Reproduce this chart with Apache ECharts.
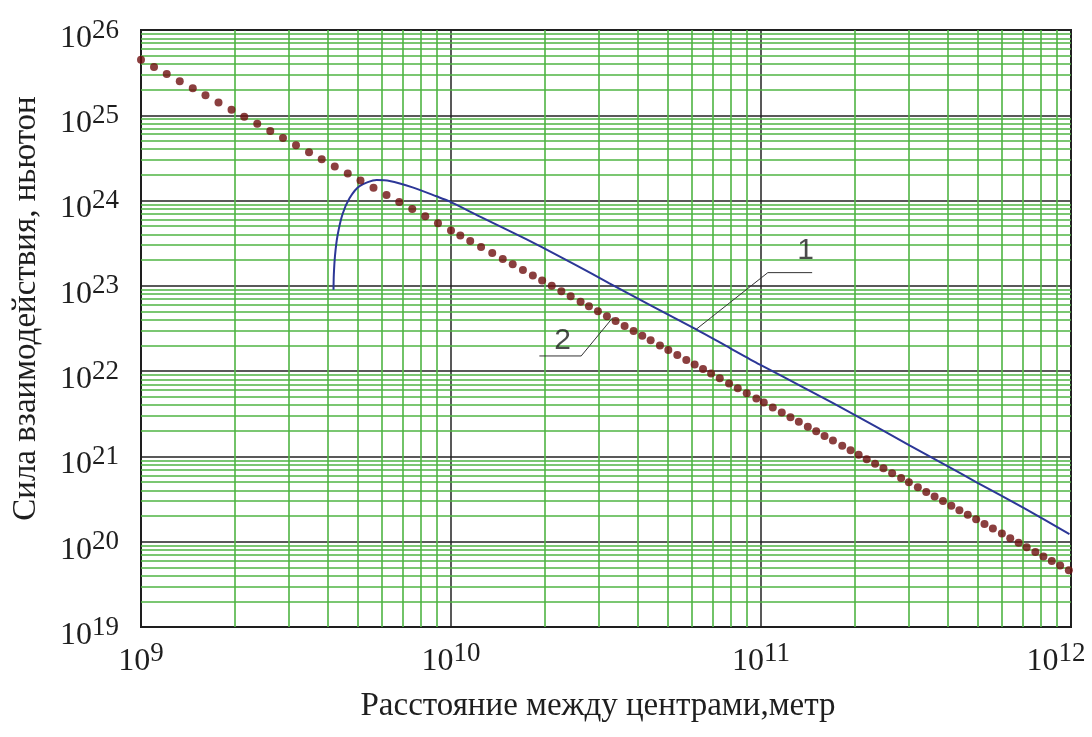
<!DOCTYPE html>
<html>
<head>
<meta charset="utf-8">
<script src="https://cdn.jsdelivr.net/npm/echarts@6/dist/echarts.min.js"></script>
<style>
html, body { margin: 0; padding: 0; background: #fff; }
#chart { width: 1092px; height: 737px; }
</style>
</head>
<body>
<div id="chart"></div>
<script>
// all values are log10 exponents
const xTicks = [9, 10, 11, 12]
const yTicks = [19, 20, 21, 22, 23, 24, 25, 26]
const minorSteps = [2, 3, 4, 5, 6, 7, 8, 9]

// curve 2 (dotted)
const dotsX = [
  9.000, 9.042, 9.083, 9.125, 9.167, 9.208, 9.250, 9.292, 9.333, 9.375,
  9.417, 9.458, 9.500, 9.542, 9.583, 9.625, 9.667, 9.708, 9.750, 9.792,
  9.833, 9.875, 9.917, 9.958, 10.000, 10.030, 10.062, 10.097, 10.133, 10.167,
  10.199, 10.232, 10.264, 10.294, 10.325, 10.356, 10.386, 10.418, 10.445, 10.474,
  10.503, 10.531, 10.560, 10.589, 10.617, 10.644, 10.674, 10.701, 10.730, 10.759,
  10.786, 10.813, 10.839, 10.867, 10.897, 10.925, 10.954, 10.985, 11.009, 11.038,
  11.067, 11.095, 11.122, 11.151, 11.178, 11.205, 11.232, 11.262, 11.289, 11.315,
  11.341, 11.368, 11.395, 11.423, 11.452, 11.477, 11.506, 11.533, 11.560, 11.587,
  11.614, 11.640, 11.667, 11.694, 11.721, 11.748, 11.777, 11.804, 11.831, 11.857,
  11.885, 11.911, 11.938, 11.965, 11.993
]
const dotsY = [
  25.650, 25.566, 25.484, 25.400, 25.316, 25.234, 25.150, 25.066, 24.984, 24.900,
  24.816, 24.734, 24.650, 24.566, 24.484, 24.400, 24.316, 24.234, 24.150, 24.066,
  23.984, 23.900, 23.816, 23.734, 23.650, 23.590, 23.526, 23.456, 23.384, 23.316,
  23.252, 23.186, 23.122, 23.062, 23.000, 22.938, 22.878, 22.814, 22.760, 22.702,
  22.644, 22.588, 22.530, 22.472, 22.416, 22.362, 22.302, 22.248, 22.190, 22.132,
  22.078, 22.024, 21.972, 21.916, 21.856, 21.800, 21.742, 21.680, 21.632, 21.574,
  21.516, 21.460, 21.406, 21.348, 21.294, 21.240, 21.186, 21.126, 21.072, 21.020,
  20.968, 20.914, 20.860, 20.804, 20.746, 20.696, 20.638, 20.584, 20.530, 20.476,
  20.422, 20.370, 20.316, 20.262, 20.208, 20.154, 20.096, 20.042, 19.988, 19.936,
  19.880, 19.828, 19.774, 19.720, 19.664
]

// curve 1 (solid blue)
const curveX = [
  9.621, 9.622, 9.626, 9.634, 9.650, 9.673, 9.705, 9.760, 9.802, 9.876,
  9.953, 9.995, 10.092, 10.198, 10.290, 10.400, 10.511, 10.650, 10.791, 10.900,
  10.995, 11.147, 11.318, 11.479, 11.600, 11.694, 11.850, 11.995
]
const curveY = [
  22.955, 23.130, 23.360, 23.590, 23.840, 24.030, 24.170, 24.240, 24.230, 24.155,
  24.050, 23.990, 23.815, 23.628, 23.460, 23.250, 23.030, 22.760, 22.490, 22.270,
  22.080, 21.790, 21.456, 21.130, 20.890, 20.700, 20.390, 20.090
]

// callouts "1" and "2"
const leader1X = [11.165, 11.022, 10.791]
const leader1Y = [23.155, 23.155, 22.491]
const leader2X = [10.285, 10.420, 10.522]
const leader2Y = [22.178, 22.178, 22.628]
const tagX = [11.144, 10.360]
const tagY = [23.417, 22.351]
const tagText = ['1', '2']

const pow10 = (e) => Math.pow(10, e)
const pairs = (xs, ys) => xs.map((x, i) => [pow10(x), pow10(ys[i])])

function minorValues(ticks) {
  const out = []
  for (let i = 0; i < ticks.length - 1; i++) {
    minorSteps.forEach((m) => out.push(m * pow10(ticks[i])))
  }
  return out
}

const serif = '"Liberation Serif", "DejaVu Serif", serif'
const ink = '#1e1e1e'
const green = '#4fb443'
const xMaxExp = xTicks[xTicks.length - 1]

function expLabel(v) {
  return '{b|10}{s|' + Math.round(Math.log10(v)) + '}'
}
// last x label is pulled left a bit so it stays inside the page
function xLabel(v) {
  const e = Math.round(Math.log10(v))
  return e === xMaxExp ? '{b|10}{sr|' + e + '}' : expLabel(v)
}

const supStyle = { fontFamily: serif, fontSize: 27, color: ink, lineHeight: 26, verticalAlign: 'top' }
const labelRich = {
  b: { fontFamily: serif, fontSize: 32, color: ink, lineHeight: 26, padding: [17, 0, 0, 0] },
  s: supStyle,
  sr: Object.assign({}, supStyle, { padding: [0, 30, 0, 0] })
}

const chart = echarts.init(document.getElementById('chart'))

chart.setOption({
  animation: false,
  grid: {
    left: 141, right: 21, top: 30, bottom: 110,
    outerBoundsMode: 'none',
    containLabel: false,
    show: true, borderColor: ink, borderWidth: 2, backgroundColor: '#fff'
  },
  xAxis: {
    type: 'log',
    logBase: 10,
    min: pow10(xTicks[0]),
    max: pow10(xMaxExp),
    interval: 1,
    name: 'Расстояние между центрами,метр',
    nameLocation: 'middle',
    nameGap: 63,
    nameTextStyle: { fontFamily: serif, fontSize: 33, color: ink, padding: [0, 16, 0, 0] },
    axisLine: { show: true, lineStyle: { color: ink, width: 2 } },
    axisTick: { show: false },
    splitLine: { show: true, lineStyle: { color: '#222', width: 1.5 } },
    axisLabel: { margin: 13, formatter: xLabel, rich: labelRich, color: ink }
  },
  yAxis: {
    type: 'log',
    logBase: 10,
    min: pow10(yTicks[0]),
    max: pow10(yTicks[yTicks.length - 1]),
    interval: 1,
    name: 'Сила взаимодействия, ньютон',
    nameLocation: 'middle',
    nameGap: 98,
    nameTextStyle: { fontFamily: serif, fontSize: 33, color: ink, padding: [0, 0, 0, 40] },
    axisLine: { show: true, lineStyle: { color: ink, width: 2 } },
    axisTick: { show: false },
    splitLine: { show: true, lineStyle: { color: '#222', width: 1.5 } },
    axisLabel: { margin: 22, formatter: expLabel, rich: labelRich, color: ink }
  },
  series: [
    {
      // minor log grid
      name: 'grid',
      type: 'line',
      data: [],
      z: 1,
      silent: true,
      markLine: {
        silent: true,
        z: 1,
        symbol: ['none', 'none'],
        label: { show: false },
        emphasis: { disabled: true },
        lineStyle: { color: green, width: 1.6, type: 'solid' },
        data: minorValues(xTicks).map((v) => ({ xAxis: v }))
          .concat(minorValues(yTicks).map((v) => ({ yAxis: v })))
      }
    },
    {
      name: '1',
      type: 'line',
      z: 10,
      smooth: 0.25,
      showSymbol: false,
      lineStyle: { color: '#2c3797', width: 2 },
      data: pairs(curveX, curveY)
    },
    {
      name: '2',
      type: 'scatter',
      z: 11,
      symbol: 'circle',
      symbolSize: 8,
      itemStyle: { color: '#6e0f0f' },
      data: pairs(dotsX, dotsY)
    },
    {
      name: 'leader1',
      type: 'line',
      z: 12,
      showSymbol: false,
      lineStyle: { color: '#333', width: 1 },
      data: pairs(leader1X, leader1Y)
    },
    {
      name: 'leader2',
      type: 'line',
      z: 12,
      showSymbol: false,
      lineStyle: { color: '#333', width: 1 },
      data: pairs(leader2X, leader2Y)
    },
    {
      name: 'tags',
      type: 'scatter',
      z: 13,
      symbolSize: 0,
      label: {
        show: true,
        position: 'inside',
        formatter: (p) => tagText[p.dataIndex],
        fontFamily: '"Liberation Sans", Arial, sans-serif',
        fontSize: 30,
        color: ink
      },
      data: pairs(tagX, tagY)
    }
  ]
})
</script>
</body>
</html>
